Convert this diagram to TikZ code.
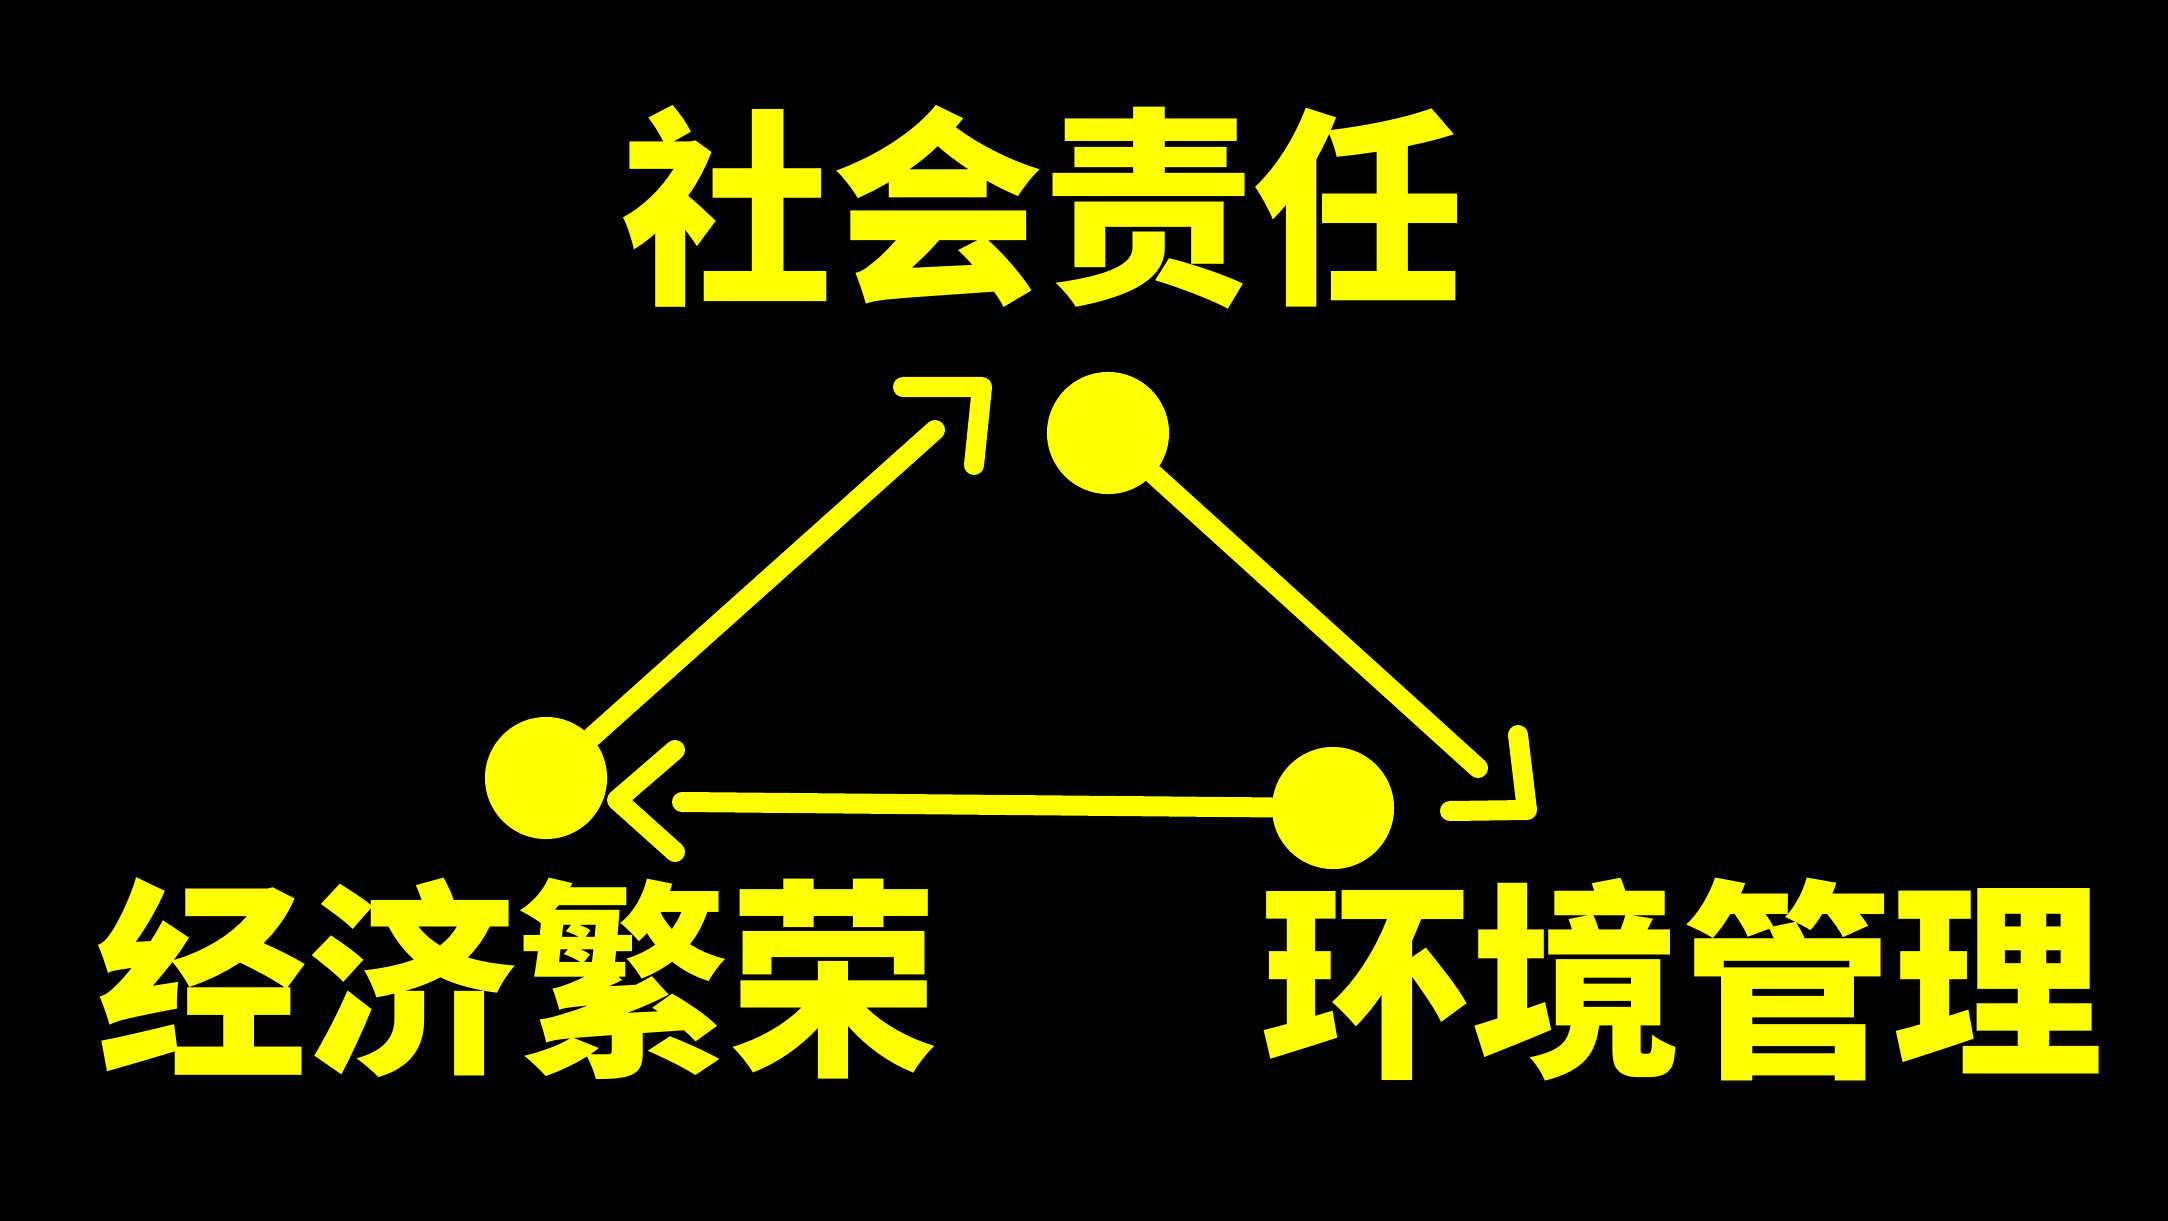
\documentclass[tikz,border=0pt]{standalone}
\usepackage{fontspec}
\newfontfamily\cjk{Noto Sans CJK SC}
\definecolor{ylw}{RGB}{255,255,0}
\tikzset{
  dot/.style={circle, fill=ylw, minimum size=1.22cm, inner sep=0pt},
  conn/.style={draw=ylw, line width=0.2cm, line cap=round, line join=round},
  label/.style={text=ylw, inner sep=0pt, font=\cjk\bfseries\fontsize{60}{60}\selectfont}
}
\begin{document}
\begin{tikzpicture}[x=0.01cm, y=-0.01cm]
  \fill[black] (0,0) rectangle (2168,1221);
  \useasboundingbox (0,0) rectangle (2168,1221);
  % labels
  \node[label] (t1) at (1043,207) {社会责任};
  \node[label] (t2) at (518,979) {经济繁荣};
  \node[label] (t3) at (1682,980) {环境管理};
  % circles
  \node[dot] (top) at (1108,433) {};
  \node[dot] (left) at (546,778) {};
  \node[dot] (right) at (1333,808) {};
  % arrow ends
  \coordinate (e1) at (935,430);
  \coordinate (e2) at (1478,768);
  \coordinate (e3) at (682,802);
  % connectors
  \draw[conn] (left) -- (e1);
  \draw[conn] (top) -- (e2);
  \draw[conn] (right) -- (e3);
  % chevrons
  \coordinate (a1) at (903,387); \coordinate (b1) at (982,387); \coordinate (c1) at (974,465);
  \coordinate (a2) at (1518,735); \coordinate (b2) at (1527,810); \coordinate (c2) at (1450,811);
  \coordinate (a3) at (675,750); \coordinate (b3) at (617,800); \coordinate (c3) at (675,852);
  \draw[conn] (a1) -- (b1) -- (c1);
  \draw[conn] (a2) -- (b2) -- (c2);
  \draw[conn] (a3) -- (b3) -- (c3);
\end{tikzpicture}
\end{document}
